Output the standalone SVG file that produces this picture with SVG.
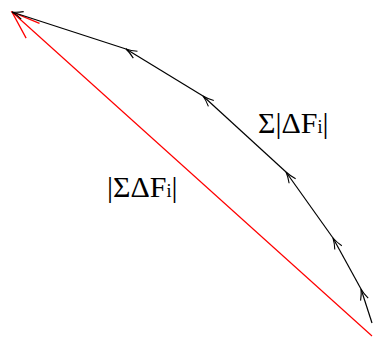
<svg xmlns="http://www.w3.org/2000/svg" width="373" height="344" viewBox="0 0 373 344">
<defs>
<style>
.lbl{font-family:"Liberation Serif","Times New Roman",serif;font-size:30px;fill:#000}
.sub{font-size:18px}
.seg{stroke:#000;stroke-width:1.2;fill:none}
.res{stroke:#ff0000;stroke-width:1.2;fill:none}
</style>
<marker id="ab" markerUnits="userSpaceOnUse" markerWidth="14" markerHeight="10" refX="12" refY="5" orient="auto" viewBox="0 0 14 10">
<path d="M1,1 Q7,4 12,5 Q7,6 1,9" fill="none" stroke="#000" stroke-width="1.1"/>
</marker>
<marker id="ar" markerUnits="userSpaceOnUse" markerWidth="32" markerHeight="24" refX="30" refY="12" orient="auto" viewBox="0 0 32 24">
<path d="M2,2 L30,12 L2,22" fill="none" stroke="#ff0000" stroke-width="1.3"/>
</marker>
</defs>
<g id="connectors">
<line class="res" x1="372" y1="336" x2="12" y2="12" marker-end="url(#ar)"/>
<line class="seg" x1="372" y1="323" x2="361" y2="289" marker-end="url(#ab)"/>
<line class="seg" x1="361" y1="289" x2="333" y2="238" marker-end="url(#ab)"/>
<line class="seg" x1="333" y1="238" x2="286" y2="172" marker-end="url(#ab)"/>
<line class="seg" x1="286" y1="172" x2="203" y2="96" marker-end="url(#ab)"/>
<line class="seg" x1="203" y1="96" x2="126" y2="49" marker-end="url(#ab)"/>
<line class="seg" x1="126" y1="49" x2="12" y2="12" marker-end="url(#ab)"/>
</g>
<g id="label-sum-abs">
<text class="lbl" x="258" y="133">Σ|ΔF<tspan class="sub">i</tspan>|</text>
</g>
<g id="label-abs-sum">
<text class="lbl" x="107" y="197">|ΣΔF<tspan class="sub">i</tspan>|</text>
</g>
</svg>
